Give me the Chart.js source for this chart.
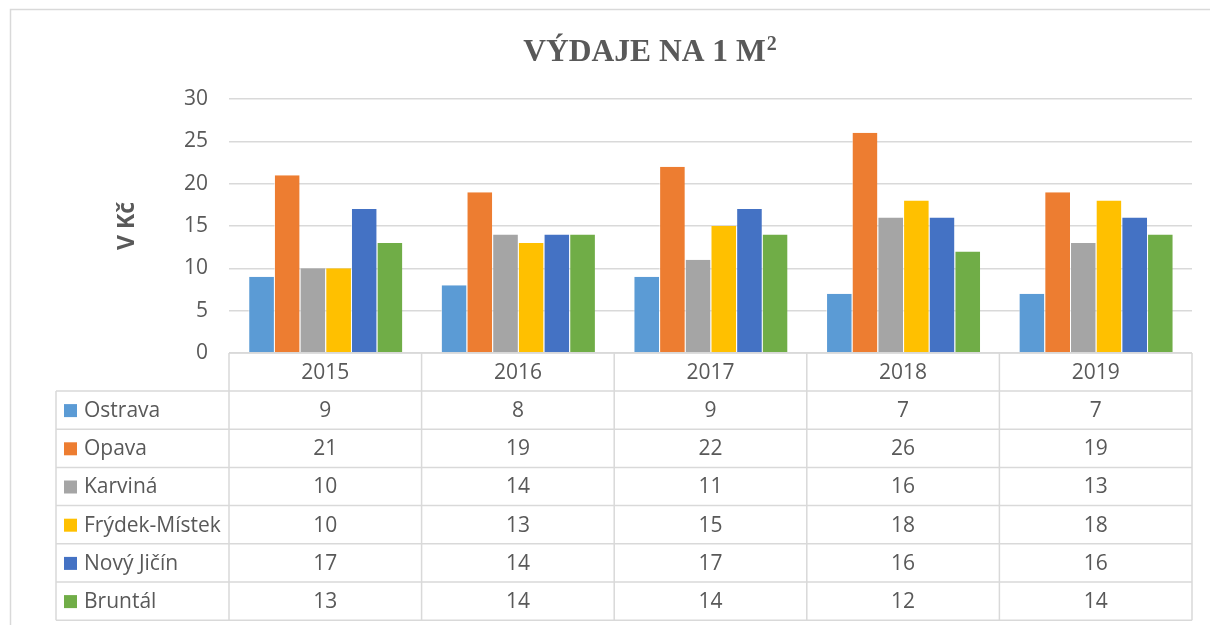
<!DOCTYPE html>
<html>
<head>
<meta charset="utf-8">
<script src="https://cdn.jsdelivr.net/npm/chart.js@4.4.0/dist/chart.umd.min.js"></script>
<style>
  html, body { margin: 0; padding: 0; background: #fff; }
  #wrap { width: 1210px; height: 625px; position: relative; }
</style>
</head>
<body>
<div id="wrap"><canvas id="graf" width="1210" height="625"></canvas></div>
<script>
// data
const roky = ['2015', '2016', '2017', '2018', '2019'];
const mesta = ['Ostrava', 'Opava', 'Karviná', 'Frýdek-Místek', 'Nový Jičín', 'Bruntál'];
const ostrava = [9, 8, 9, 7, 7];
const opava = [21, 19, 22, 26, 19];
const karvina = [10, 14, 11, 16, 13];
const frydekMistek = [10, 13, 15, 18, 18];
const novyJicin = [17, 14, 17, 16, 16];
const bruntal = [13, 14, 14, 12, 14];
const yTicks = [0, 5, 10, 15, 20, 25, 30];

const barvy = ['#5B9BD5', '#ED7D31', '#A5A5A5', '#FFC000', '#4472C4', '#70AD47'];
const serie = [ostrava, opava, karvina, frydekMistek, novyJicin, bruntal];

const TEXT = '#595959';
const LINKA = '#D9D9D9';
const FONT = '"Open Sans", "Liberation Sans", sans-serif';

// titulek, popisek osy, ramecek a datova tabulka pod grafem
const tabulkaPlugin = {
    id: 'tabulka',
    afterDraw(chart) {
        const ctx = chart.ctx;
        const area = chart.chartArea;
        const x = chart.scales.x;
        const krok = (area.right - area.left) / roky.length;
        const hlavickaH = 38;
        const radekH = 38.2;
        const tabLeft = 56;
        const horni = area.bottom;
        const hlavickaDole = horni + hlavickaH;
        const dole = hlavickaDole + radekH * mesta.length;

        ctx.save();

        // ramecek grafu
        ctx.strokeStyle = LINKA;
        ctx.lineWidth = 1.5;
        ctx.beginPath();
        ctx.moveTo(10.5, 625);
        ctx.lineTo(10.5, 9.5);
        ctx.lineTo(1210, 9.5);
        ctx.stroke();

        // titulek (horni index 2 kreslen zvlast)
        ctx.fillStyle = TEXT;
        ctx.textAlign = 'left';
        ctx.textBaseline = 'alphabetic';
        const fontHlavni = 'bold 31.5px "Liberation Serif", "Times New Roman", serif';
        const fontIndex = 'bold 20px "Liberation Serif", "Times New Roman", serif';
        ctx.font = fontHlavni;
        const zaklad = 'VÝDAJE NA 1 M';
        const w1 = ctx.measureText(zaklad).width;
        ctx.font = fontIndex;
        const w2 = ctx.measureText('2').width;
        const x0 = 650 - (w1 + w2 + 1) / 2;
        ctx.font = fontHlavni;
        ctx.fillText(zaklad, x0, 61);
        ctx.font = fontIndex;
        ctx.fillText('2', x0 + w1 + 1, 50);

        // popisek osy y
        ctx.save();
        ctx.translate(127, 226);
        ctx.rotate(-Math.PI / 2);
        ctx.font = 'bold 23px ' + FONT;
        ctx.textAlign = 'center';
        ctx.textBaseline = 'middle';
        ctx.fillText('V Kč', 0, 0);
        ctx.restore();

        // mrizka tabulky
        ctx.strokeStyle = LINKA;
        ctx.lineWidth = 1.5;
        ctx.beginPath();
        ctx.moveTo(area.left, horni);
        ctx.lineTo(area.right, horni);
        for (let r = 0; r <= mesta.length; r++) {
            const yy = hlavickaDole + r * radekH;
            ctx.moveTo(tabLeft, yy);
            ctx.lineTo(area.right, yy);
        }
        for (let i = 0; i <= roky.length; i++) {
            const xx = area.left + i * krok;
            ctx.moveTo(xx, horni);
            ctx.lineTo(xx, dole);
        }
        ctx.moveTo(tabLeft, hlavickaDole);
        ctx.lineTo(tabLeft, dole);
        ctx.stroke();

        // roky v hlavicce
        ctx.fillStyle = TEXT;
        ctx.font = '21px ' + FONT;
        ctx.textAlign = 'center';
        ctx.textBaseline = 'middle';
        roky.forEach((rok, i) => {
            ctx.fillText(rok, x.getPixelForValue(i), horni + hlavickaH / 2 + 1);
        });

        // radky s legendou a hodnotami
        mesta.forEach((mesto, r) => {
            const yc = hlavickaDole + r * radekH + radekH / 2 + 1;
            ctx.fillStyle = barvy[r];
            ctx.fillRect(64, yc - 7, 13, 13);
            ctx.fillStyle = TEXT;
            ctx.textAlign = 'left';
            ctx.fillText(mesto, 84, yc);
            ctx.textAlign = 'center';
            serie[r].forEach((v, i) => {
                ctx.fillText(String(v), x.getPixelForValue(i), yc);
            });
        });

        ctx.restore();
    }
};

const ctx = document.getElementById('graf').getContext('2d');
new Chart(ctx, {
    type: 'bar',
    data: {
        labels: roky,
        datasets: mesta.map((m, i) => ({
            label: m,
            data: serie[i],
            backgroundColor: barvy[i],
            borderColor: 'rgba(255,255,255,0.55)',
            borderWidth: { left: 1, right: 0, top: 0, bottom: 0 },
            borderSkipped: false,
            categoryPercentage: 0.8,
            barPercentage: 1.0
        }))
    },
    options: {
        responsive: false,
        animation: false,
        devicePixelRatio: 1,
        layout: { padding: { left: 0, right: 18, top: 99, bottom: 272 } },
        plugins: {
            legend: { display: false },
            title: { display: false },
            tooltip: { enabled: false }
        },
        scales: {
            x: { display: false },
            y: {
                min: 0,
                max: 30,
                afterFit: (scale) => { scale.width = 229; },
                afterBuildTicks: (scale) => { scale.ticks = yTicks.map(v => ({ value: v })); },
                border: { display: false },
                grid: { color: LINKA, lineWidth: 1.5, drawTicks: false },
                ticks: {
                    color: TEXT,
                    padding: 21,
                    font: { family: FONT, size: 21 }
                }
            }
        }
    },
    plugins: [tabulkaPlugin]
});
</script>
</body>
</html>
